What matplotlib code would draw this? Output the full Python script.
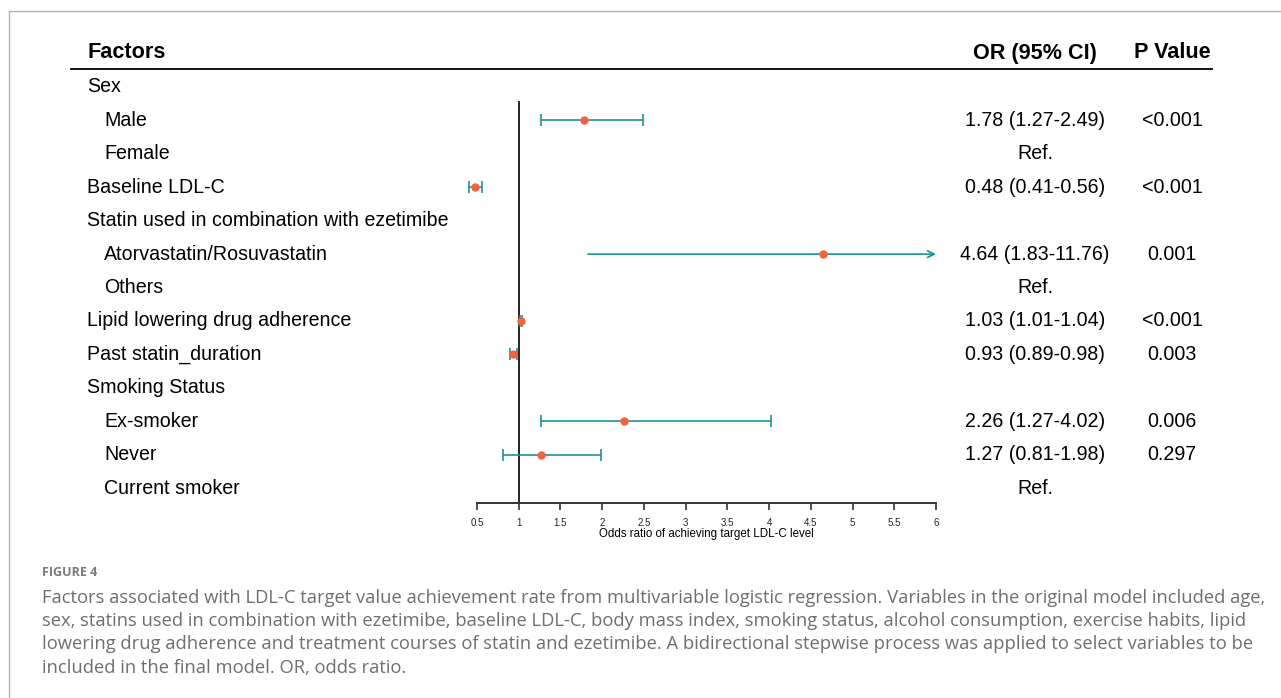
import numpy as np
import matplotlib.pyplot as plt
from matplotlib.lines import Line2D
from matplotlib.transforms import blended_transform_factory

plt.rc('font', family=['Liberation Sans', 'DejaVu Sans'])

# ---- data ----
factors = ["Sex", "Male", "Female", "Baseline LDL-C",
           "Statin used in combination with ezetimibe", "Atorvastatin/Rosuvastatin",
           "Others", "Lipid lowering drug adherence", "Past statin_duration",
           "Smoking Status", "Ex-smoker", "Never", "Current smoker"]
indent = [0, 1, 1, 0, 0, 1, 1, 0, 0, 0, 1, 1, 1]
odds = [None, 1.78, None, 0.48, None, 4.64, None, 1.03, 0.93, None, 2.26, 1.27, None]
ci_low = [None, 1.27, None, 0.41, None, 1.83, None, 1.01, 0.89, None, 1.27, 0.81, None]
ci_high = [None, 2.49, None, 0.56, None, 11.76, None, 1.04, 0.98, None, 4.02, 1.98, None]
or_text = ["", "1.78 (1.27-2.49)", "Ref.", "0.48 (0.41-0.56)", "", "4.64 (1.83-11.76)",
           "Ref.", "1.03 (1.01-1.04)", "0.93 (0.89-0.98)", "", "2.26 (1.27-4.02)",
           "1.27 (0.81-1.98)", "Ref."]
p_text = ["", "<0.001", "", "<0.001", "", "0.001", "", "<0.001", "0.003", "",
          "0.006", "0.297", ""]
x_ticks = [0.5, 1, 1.5, 2, 2.5, 3, 3.5, 4, 4.5, 5, 5.5, 6]
x_max = 6

caption = [
    "Factors associated with LDL-C target value achievement rate from multivariable logistic regression. Variables in the original model included age,",
    "sex, statins used in combination with ezetimibe, baseline LDL-C, body mass index, smoking status, alcohol consumption, exercise habits, lipid",
    "lowering drug adherence and treatment courses of statin and ezetimibe. A bidirectional stepwise process was applied to select variables to be",
    "included in the final model. OR, odds ratio.",
]

W, H = 1281, 698
TEAL = '#1f9191'
DOT = '#f4623e'


def fx(px):
    return px / W


def fy(py):
    return 1 - py / H


fig = plt.figure(figsize=(W / 100, H / 100), dpi=100)

# forest panel
row0, step = 87, 33.42
top_px, bot_px = 70, 503
ax = fig.add_axes([fx(477), fy(bot_px), fx(936) - fx(477), (bot_px - top_px) / H])
ax.set_xlim(0.5, x_max)
ax.set_ylim((bot_px - row0) / step, (top_px - row0) / step)
for s in ['top', 'right', 'left']:
    ax.spines[s].set_visible(False)
ax.spines['bottom'].set_color('#333333')
ax.spines['bottom'].set_linewidth(1.4)
ax.set_yticks([])
ax.set_xticks(x_ticks)
ax.set_xticklabels([f"{t:g}" for t in x_ticks], fontsize=7, color='#222222')
ax.tick_params(axis='x', length=5, width=1.2, color='#333333', pad=6)
ax.set_xlabel("Odds ratio of achieving target LDL-C level", fontsize=8.3, labelpad=0)
ax.vlines(1, (101 - row0) / step, (bot_px - row0) / step, color='black', lw=1.2, zorder=1)

for i in range(len(factors)):
    if odds[i] is None:
        continue
    if ci_high[i] > x_max:
        # upper limit runs off the axis: draw an arrow instead of a cap
        ax.annotate("", xy=(x_max, i), xytext=(ci_low[i], i),
                    arrowprops=dict(arrowstyle='->', color=TEAL, lw=1.2,
                                    shrinkA=0, shrinkB=0, mutation_scale=12),
                    annotation_clip=False)
    else:
        ax.errorbar([odds[i]], [i], xerr=[[odds[i] - ci_low[i]], [ci_high[i] - odds[i]]],
                    fmt='none', ecolor=TEAL, elinewidth=1.2, capsize=4, capthick=1.2,
                    clip_on=False)
    ax.plot([odds[i]], [i], 'o', color=DOT, ms=5, mec=DOT, zorder=5, clip_on=False)

# table text
tr = blended_transform_factory(fig.transFigure, ax.transData)
for i, lab in enumerate(factors):
    x0 = 104 if indent[i] else 87
    ax.text(fx(x0), i, lab, transform=tr, fontsize=14.1, va='center', ha='left', clip_on=False)
    if or_text[i]:
        ax.text(fx(1035), i, or_text[i], transform=tr, fontsize=14.1, va='center', ha='center',
                clip_on=False)
    if p_text[i]:
        ax.text(fx(1172), i, p_text[i], transform=tr, fontsize=14.1, va='center', ha='center',
                clip_on=False)

fig.text(fx(87), fy(53), "Factors", fontsize=15.6, fontweight='bold', va='center', ha='left')
fig.text(fx(1035), fy(53), "OR (95% CI)", fontsize=15.6, fontweight='bold', va='center', ha='center')
fig.text(fx(1211), fy(53), "P Value", fontsize=15.6, fontweight='bold', va='center', ha='right')
fig.add_artist(Line2D([fx(71), fx(1212)], [fy(69), fy(69)], color='black', lw=1.3))

# card border
fig.add_artist(Line2D([fx(9), fx(W)], [fy(11), fy(11)], color='#b4b4b4', lw=1))
fig.add_artist(Line2D([fx(9), fx(9)], [fy(11), 0], color='#b4b4b4', lw=1))

# caption
fig.text(fx(42), fy(572), "FIGURE 4", fontsize=9, fontweight='bold', color='#7a7a7a',
         family='Open Sans', va='center', ha='left')
for k, line in enumerate(caption):
    fig.text(fx(42), fy(598 + 23.2 * k), line, fontsize=13.25, color='#6e6e6e',
             family='Open Sans', va='center', ha='left')

fig.savefig("out.png", dpi=100)
